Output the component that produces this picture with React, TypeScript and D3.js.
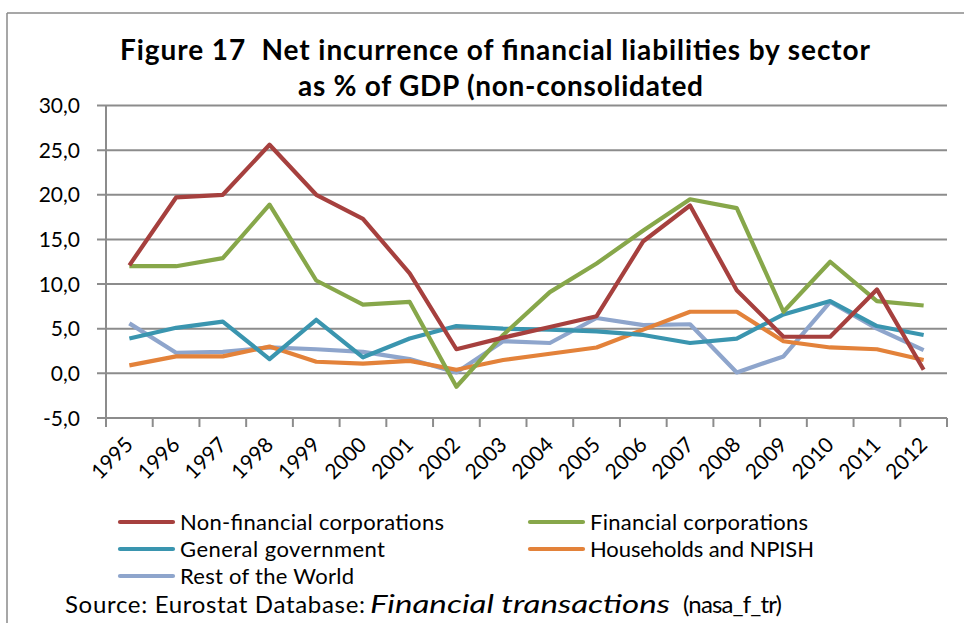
import React from "react";
import * as d3 from "d3";

const years = ["1995","1996","1997","1998","1999","2000","2001","2002","2003","2004","2005","2006","2007","2008","2009","2010","2011","2012"];
const nonFinancial = [12.1,19.7,20.0,25.6,20.0,17.3,11.2,2.7,4.0,5.2,6.4,14.8,18.8,9.3,4.1,4.1,9.4,0.4];
const financial = [12.0,12.0,12.9,18.9,10.4,7.7,8.0,-1.5,4.3,9.1,12.3,16.0,19.5,18.5,6.9,12.5,8.1,7.6];
const generalGov = [3.9,5.1,5.8,1.6,6.0,1.8,3.9,5.3,5.0,4.9,4.7,4.3,3.4,3.9,6.6,8.1,5.3,4.3];
const households = [0.9,1.9,1.9,3.0,1.3,1.1,1.4,0.4,1.5,2.2,2.9,4.9,6.9,6.9,3.6,2.9,2.7,1.5];
const restOfWorld = [5.6,2.3,2.4,2.9,2.7,2.4,1.6,0.1,3.6,3.4,6.2,5.4,5.5,0.1,1.9,8.0,5.0,2.6];
const yTicks = [-5,0,5,10,15,20,25,30];
const yTickLabels = ["-5,0","0,0","5,0","10,0","15,0","20,0","25,0","30,0"];

const seriesNames = ["Non-financial corporations","Financial corporations","General government","Households and NPISH","Rest of the World"];
const seriesValues = [nonFinancial, financial, generalGov, households, restOfWorld];
const seriesColors = ["#A6403E","#87A74A","#3A95AF","#E3823A","#8EA5CC"];

const W = 964, H = 623;
const font = "Lato, 'Open Sans', sans-serif";

export default function App() {
  const x = d3.scaleBand<string>().domain(years).range([106, 947]);
  const y = d3.scaleLinear().domain([-5, 30]).range([418, 105.5]);
  const line = d3.line<number>()
    .x((_, i) => (x(years[i]) as number) + x.bandwidth() / 2)
    .y((d) => y(d));
  const drawOrder = [4, 3, 2, 1, 0];
  const legendPos = [
    { x: 120, y: 522 },
    { x: 530, y: 522 },
    { x: 120, y: 549 },
    { x: 530, y: 549 },
    { x: 120, y: 576 },
  ];
  const legendLen = [264, 218, 205, 224, 174];
  return (
    <svg width={W} height={H} style={{ position: "absolute", left: 0, top: 0, background: "#fff" }} fontFamily={font}>
      <rect x={0} y={0} width={W} height={H} fill="#fff" />
      <line x1={7} y1={13} x2={W} y2={13} stroke="#8a8a8a" strokeWidth={1.5} />
      <line x1={7} y1={13} x2={7} y2={H} stroke="#8a8a8a" strokeWidth={1.5} />
      <text x={120} y={60} fontWeight="bold" fontSize={28} fill="#000" textLength={750} lengthAdjust="spacing">{"Figure 17\u00a0\u00a0Net incurrence of financial liabilities by sector"}</text>
      <text x={298} y={96} fontWeight="bold" fontSize={28} fill="#000" textLength={405} lengthAdjust="spacing">as % of GDP (non-consolidated</text>
      {yTicks.map((t, i) => (
        <g key={t}>
          <line x1={97} x2={947} y1={y(t)} y2={y(t)} stroke="#8c8c8c" strokeWidth={2} />
          <text x={80} y={y(t)} dy="0.36em" textAnchor="end" fontSize={21} fill="#000">{yTickLabels[i]}</text>
        </g>
      ))}
      <line x1={106} x2={106} y1={105.5} y2={418} stroke="#8c8c8c" strokeWidth={2} />
      {years.map((yr) => (
        <line key={"t" + yr} x1={(x(yr) as number)} x2={(x(yr) as number)} y1={418} y2={427} stroke="#8c8c8c" strokeWidth={2} />
      ))}
      <line x1={947} x2={947} y1={418} y2={427} stroke="#8c8c8c" strokeWidth={2} />
      {years.map((yr) => {
        const cx = (x(yr) as number) + x.bandwidth() / 2 + 5;
        const cy = 446;
        return (
          <text key={"l" + yr} x={cx} y={cy} textAnchor="end" fontSize={21} fill="#000" transform={`rotate(-45 ${cx} ${cy})`}>{yr}</text>
        );
      })}
      {drawOrder.map((si) => (
        <path key={seriesNames[si]} d={line(seriesValues[si]) as string} fill="none" stroke={seriesColors[si]} strokeWidth={4.2} strokeLinejoin="round" />
      ))}
      {seriesNames.map((n, i) => (
        <g key={"lg" + n}>
          <line x1={legendPos[i].x} x2={legendPos[i].x + 53} y1={legendPos[i].y} y2={legendPos[i].y} stroke={seriesColors[i]} strokeWidth={4.2} strokeLinecap="round" />
          <text x={legendPos[i].x + 60} y={legendPos[i].y} dy="0.36em" fontSize={22} fill="#000" textLength={legendLen[i]} lengthAdjust="spacing">{n}</text>
        </g>
      ))}
      <text x={65} y={613} fontSize={24} fill="#000" textLength={300} lengthAdjust="spacing">Source: Eurostat Database:</text>
      <text x={370} y={613} fontSize={26} fontStyle="italic" fill="#000" textLength={300} lengthAdjust="spacingAndGlyphs">Financial transactions</text>
      <text x={683} y={613} fontSize={24} fill="#000" textLength={99} lengthAdjust="spacing">(nasa_f_tr)</text>
    </svg>
  );
}
